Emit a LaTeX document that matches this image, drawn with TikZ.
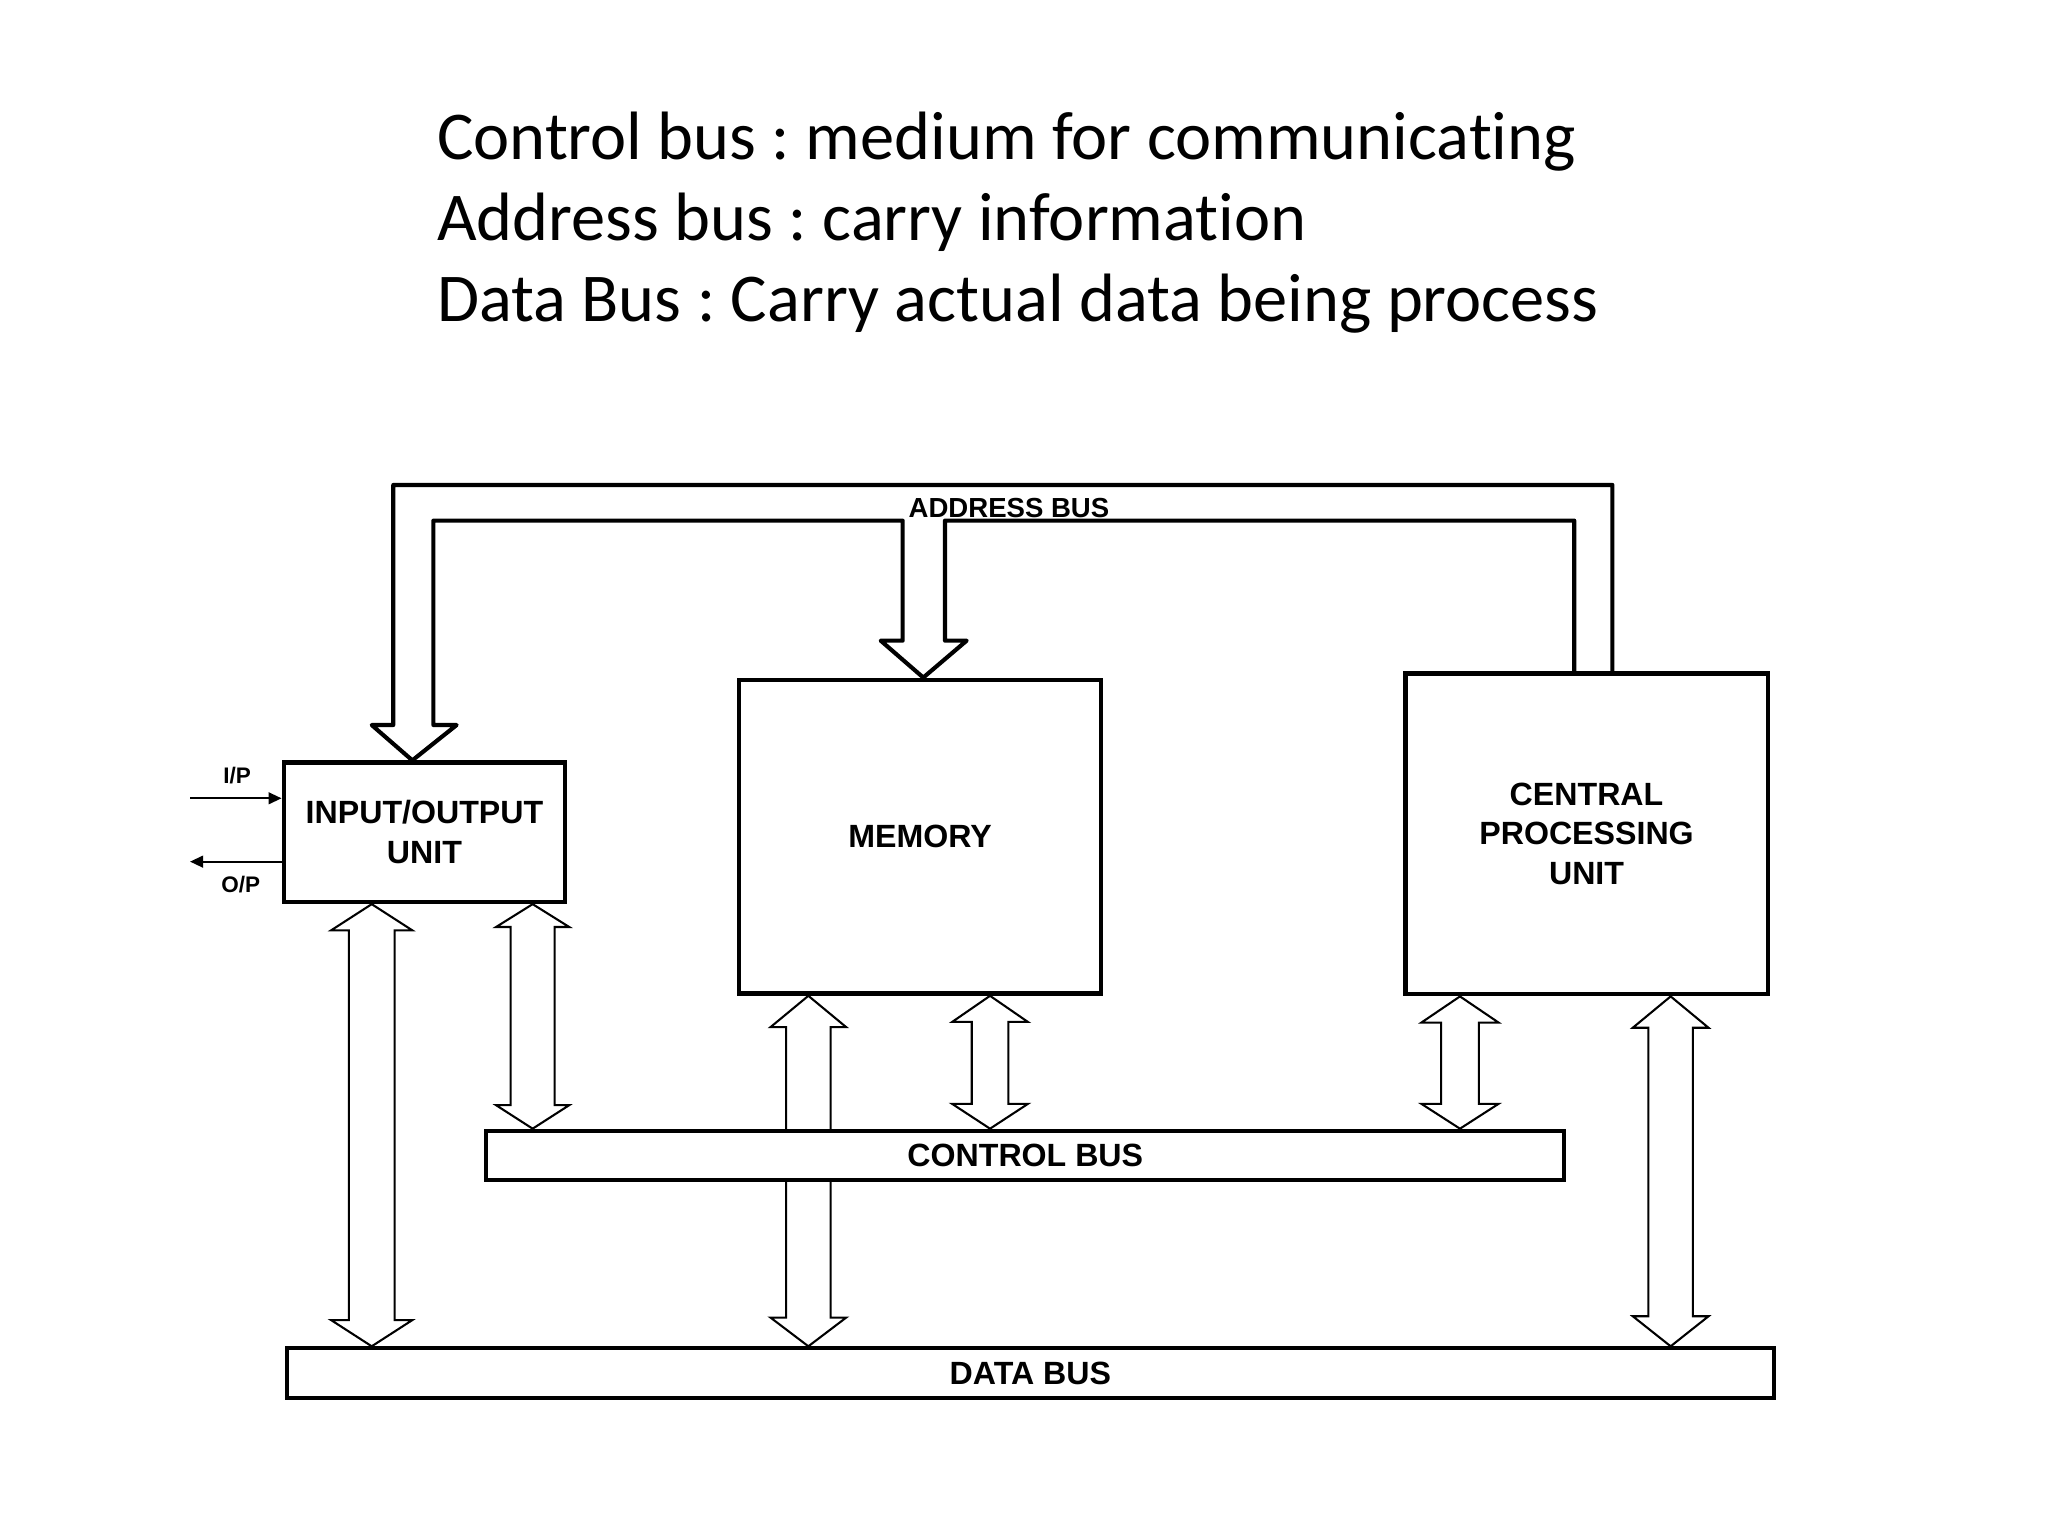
\documentclass[tikz,border=0pt]{standalone}
\usepackage{fontspec}
\setmainfont{Carlito}[Ligatures=NoCommon]
\newfontfamily\labelfont{Liberation Sans}
\usetikzlibrary{arrows.meta,calc}
\frenchspacing

% double headed block arrow: top, bottom, shaft half width, head half width, head lengths
\newcommand{\dblarrow}[6]{%
  \draw[blockarrow] let \p1=(#1), \p2=(#2) in
    (\x1,\y1) -- (\x1+#4,\y1-#5) -- (\x1+#3,\y1-#5) -- (\x1+#3,\y2+#6)
    -- (\x1+#4,\y2+#6) -- (\x1,\y2) -- (\x1-#4,\y2+#6) -- (\x1-#3,\y2+#6)
    -- (\x1-#3,\y1-#5) -- (\x1-#4,\y1-#5) -- cycle;}

\begin{document}
\begin{tikzpicture}[x=0.01cm,y=-0.01cm,
  every node/.style={inner sep=0pt},
  unit/.style={draw,line width=1pt,fill=white,align=center,
    font=\labelfont\bfseries\fontsize{7}{8.6}\selectfont},
  bus/.style={draw,line width=0.9pt,fill=white,minimum height=0.377cm,
    font=\labelfont\bfseries\fontsize{7}{8.6}\selectfont},
  addrbus/.style={line width=0.9pt,line join=round},
  blockarrow/.style={draw,line width=0.45pt,fill=white},
  sigarrow/.style={-{Triangle[length=1mm,width=0.9mm]},line width=0.45pt},
  siglabel/.style={font=\labelfont\bfseries\fontsize{4.9}{5.5}\selectfont},
  title/.style={anchor=base west,font=\fontsize{14.9}{17.7}\selectfont}
]
\useasboundingbox (0,0) rectangle (1568,1176);
\fill[white] (0,0) rectangle (1568,1176);

\node[title] (t1) at (334,122) {Control bus : medium for communicating};
\node[title] (t2) at (334,184.3) {Address bus : carry information};
\node[title] (t3) at (334,246.3) {Data Bus : Carry actual data being process};

\node[unit,minimum width=2.152cm,minimum height=1.065cm] (io) at (325,637.2) {INPUT/OUTPUT\\UNIT};
\node[unit,minimum width=2.77cm,minimum height=2.40cm] (mem) at (704.5,640.6) {MEMORY};
\node[unit,minimum width=2.774cm,minimum height=2.455cm] (cpu) at (1214.7,638.3) {CENTRAL\\PROCESSING\\UNIT};
\node[bus,minimum width=11.377cm] (dbus) at (788.9,1051.2) {DATA BUS};

% address bus
\coordinate (outerTL) at (301.1,371.3);
\coordinate (outerTR) at (1234.5,371.3);
\coordinate (innerTL) at (331.8,398.6);
\coordinate (innerTR) at (1205.3,398.6);
\coordinate (ioA) at (315.7,0);
\coordinate (memA) at (706.9,0);
\draw[addrbus] (outerTR |- cpu.north) -- (outerTR) -- (outerTL) -- (301.1,555.1)
  -- (284.6,555.1) -- (ioA |- io.north) -- (349.6,555.1) -- (331.8,555.1)
  -- (innerTL) -- (691.1,398.6) -- (691.1,490.5) -- (674.3,490.5)
  -- (memA |- mem.north) -- (740.1,490.5) -- (723.5,490.5) -- (723.5,398.6)
  -- (innerTR) -- (innerTR |- cpu.north);
\node[siglabel,font=\labelfont\bfseries\fontsize{6}{7}\selectfont,anchor=base] (addr) at (772.5,396.5) {ADDRESS BUS};

% data bus connections
\coordinate (ioD) at (284.6,0);
\coordinate (memD) at (618.9,0);
\coordinate (cpuD) at (1279.1,0);
\dblarrow{ioD |- io.south}{ioD |- dbus.north}{1.75mm}{3.1mm}{2mm}{2mm}
\dblarrow{memD |- mem.south}{memD |- dbus.north}{1.7mm}{2.9mm}{2.4mm}{2.2mm}
\dblarrow{cpuD |- cpu.south}{cpuD |- dbus.north}{1.7mm}{2.9mm}{2.4mm}{2.3mm}

\node[bus,minimum width=8.249cm] (cbus) at (785,884.6) {CONTROL BUS};

% control bus connections
\coordinate (ioC) at (407.8,0);
\coordinate (memC) at (758,0);
\coordinate (cpuC) at (1117.8,0);
\dblarrow{ioC |- io.south}{ioC |- cbus.north}{1.68mm}{2.8mm}{1.75mm}{1.8mm}
\dblarrow{memC |- mem.south}{memC |- cbus.north}{1.4mm}{2.9mm}{2mm}{1.9mm}
\dblarrow{cpuC |- cpu.south}{cpuC |- cbus.north}{1.45mm}{2.95mm}{2mm}{1.9mm}

% external signals
\coordinate (ipin) at (145.5,611.2);
\coordinate (opout) at (145.5,659.7);
\draw[sigarrow] (ipin) -- (ipin -| io.west);
\draw[sigarrow] (opout -| io.west) -- (opout);
\node[siglabel] (ip) at (181.5,594) {I/P};
\node[siglabel] (op) at (184.4,677.6) {O/P};
\end{tikzpicture}
\end{document}
